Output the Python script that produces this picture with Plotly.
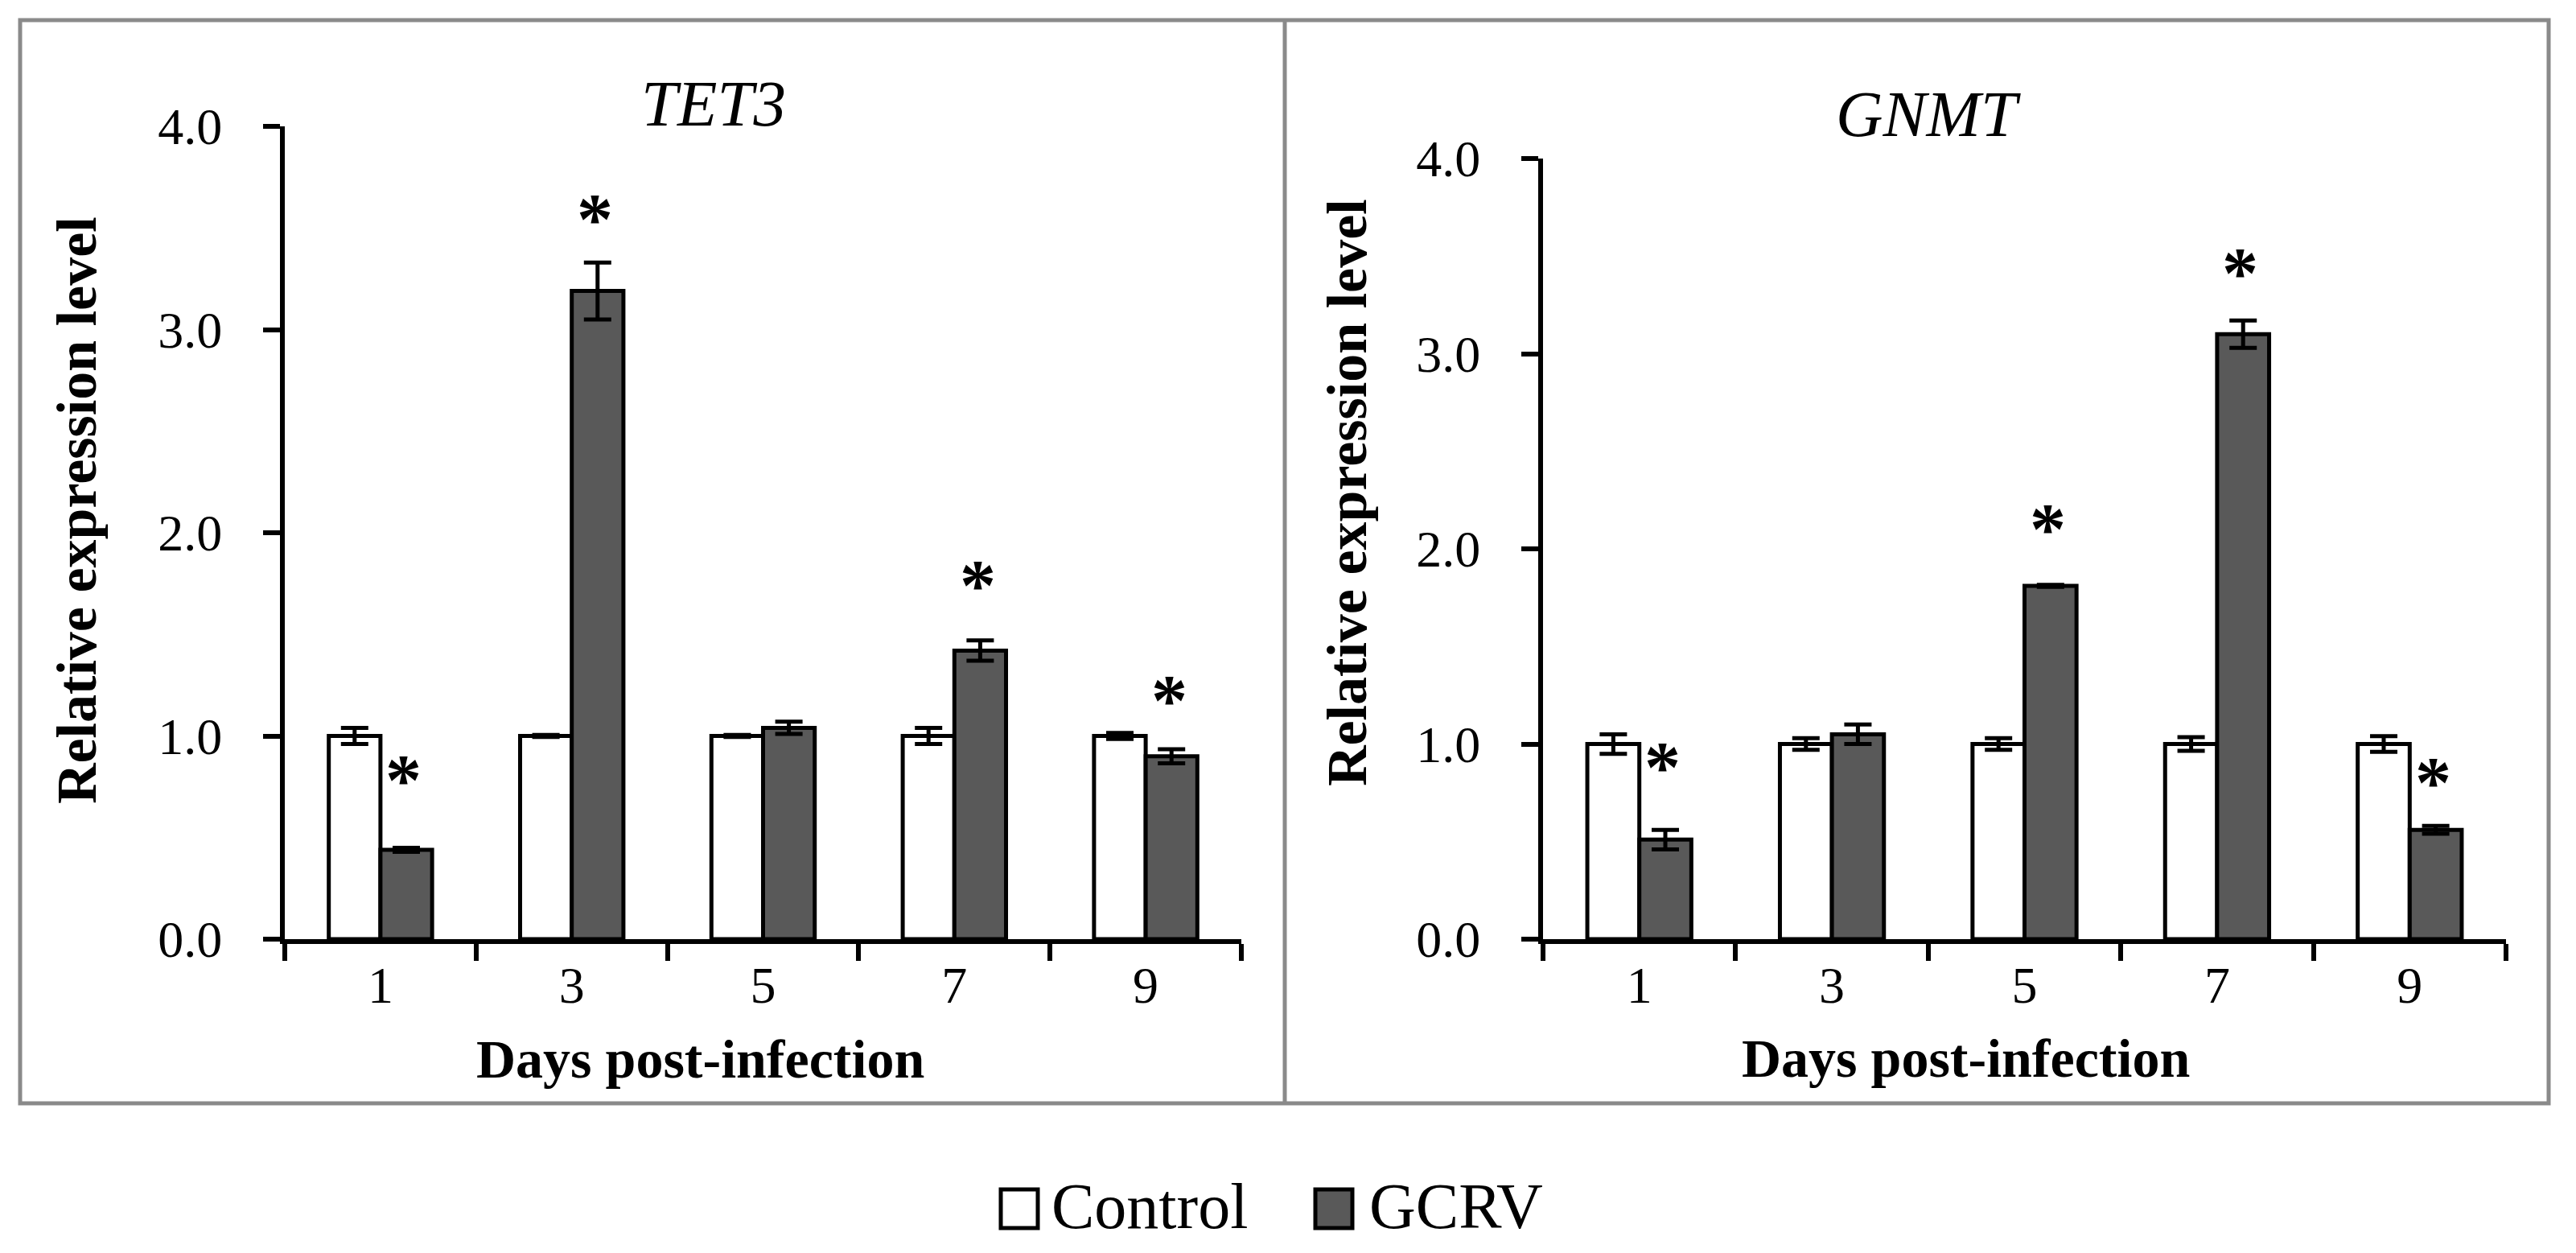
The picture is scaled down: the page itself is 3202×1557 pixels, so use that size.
import plotly.graph_objects as go

# ---------------- data ----------------
days = ["1", "3", "5", "7", "9"]
series_names = ["Control", "GCRV"]
gene_titles = ["TET3", "GNMT"]
y_tick_vals = [0.0, 1.0, 2.0, 3.0, 4.0]

tet3_control = [1.00, 1.00, 1.00, 1.00, 1.00]
tet3_control_err = [0.04, 0.005, 0.005, 0.04, 0.015]
tet3_gcrv = [0.44, 3.19, 1.04, 1.42, 0.90]
tet3_gcrv_err = [0.01, 0.14, 0.03, 0.05, 0.035]
tet3_star_y = [0.83, 3.59, None, 1.79, 1.22]

gnmt_control = [1.00, 1.00, 1.00, 1.00, 1.00]
gnmt_control_err = [0.05, 0.03, 0.03, 0.035, 0.04]
gnmt_gcrv = [0.51, 1.05, 1.81, 3.10, 0.56]
gnmt_gcrv_err = [0.05, 0.05, 0.005, 0.07, 0.02]
gnmt_star_y = [0.93, None, 2.15, 3.46, 0.85]

# ---------------- layout helpers ----------------
W, H = 3202, 1557
FONT = "Liberation Serif"
GCRV_COLOR = "#595959"
CONTROL_COLOR = "#ffffff"
BORDER = "#8a8a8a"


def fx(px):
    return px / W


def fy(py):
    return 1 - py / H


fig = go.Figure()

panels = [
    dict(xa="x", ya="y", ctrl=tet3_control, ctrl_e=tet3_control_err,
         gcrv=tet3_gcrv, gcrv_e=tet3_gcrv_err, stars=tet3_star_y),
    dict(xa="x2", ya="y2", ctrl=gnmt_control, ctrl_e=gnmt_control_err,
         gcrv=gnmt_gcrv, gcrv_e=gnmt_gcrv_err, stars=gnmt_star_y),
]

for i, p in enumerate(panels):
    for name, vals, errs, color in [
        (series_names[0], p["ctrl"], p["ctrl_e"], CONTROL_COLOR),
        (series_names[1], p["gcrv"], p["gcrv_e"], GCRV_COLOR),
    ]:
        fig.add_trace(go.Bar(
            x=days, y=vals, name=name, xaxis=p["xa"], yaxis=p["ya"],
            offsetgroup=name, showlegend=False,
            marker=dict(color=color, line=dict(color="black", width=5)),
            error_y=dict(type="data", array=errs, visible=True,
                         color="black", thickness=5, width=17),
        ))

axis_common = dict(
    showgrid=False, zeroline=False, showline=True, linecolor="black",
    linewidth=6, ticks="outside", tickcolor="black", tickwidth=6,
    ticklen=21, tickfont=dict(family=FONT, size=64, color="black"),
    automargin=False,
)
x_common = dict(type="category", categoryorder="array", categoryarray=days,
                range=[-0.5, len(days) - 0.5], tickson="boundaries",
                ticklabelstandoff=-4, **axis_common)
y_common = dict(range=[0, 4], tickvals=y_tick_vals, tickformat=".1f",
                ticklabelstandoff=38, **axis_common)

fig.update_layout(
    width=W, height=H, autosize=False,
    margin=dict(l=0, r=0, t=0, b=0, pad=0, autoexpand=False),
    paper_bgcolor="white", plot_bgcolor="white",
    barmode="group", bargap=0.46, bargroupgap=0.0,
    showlegend=False,
    font=dict(family=FONT, color="black"),
    xaxis=dict(domain=[fx(354), fx(1543)], anchor="y", **x_common),
    yaxis=dict(domain=[fy(1167), fy(157)], anchor="x", **y_common),
    xaxis2=dict(domain=[fx(1918), fx(3115)], anchor="y2", **x_common),
    yaxis2=dict(domain=[fy(1167), fy(197)], anchor="x2", **y_common),
)

annotations = []
# significance asterisks above GCRV bars (x given as category index)
for p in panels:
    for idx, sy in enumerate(p["stars"]):
        if sy is None:
            continue
        annotations.append(dict(
            x=idx, y=sy, xref=p["xa"], yref=p["ya"], text="<b>*</b>",
            showarrow=False, xshift=29, yshift=-12,
            font=dict(family=FONT, size=90, color="black"),
            xanchor="center", yanchor="middle",
        ))

# panel titles
for title, cx, cy in [(gene_titles[0], 887, 129), (gene_titles[1], 2397, 142)]:
    annotations.append(dict(
        x=fx(cx), y=fy(cy), xref="paper", yref="paper",
        text=f"<i>{title}</i>", showarrow=False,
        font=dict(family=FONT, size=81, color="black"),
        xanchor="center", yanchor="middle",
    ))

# axis titles
for cx, cy in [(95, 634), (1674, 612)]:
    annotations.append(dict(
        x=fx(cx), y=fy(cy), xref="paper", yref="paper",
        text="<b>Relative expression level</b>", textangle=-90,
        showarrow=False, font=dict(family=FONT, size=70, color="black"),
        xanchor="center", yanchor="middle",
    ))
for cx, cy in [(870, 1316), (2443, 1315)]:
    annotations.append(dict(
        x=fx(cx), y=fy(cy), xref="paper", yref="paper",
        text="<b>Days post-infection</b>",
        showarrow=False, font=dict(family=FONT, size=68, color="black"),
        xanchor="center", yanchor="middle",
    ))

# legend (manual, bottom centre)
legend_items = [(series_names[0], CONTROL_COLOR, 1244, 1305),
                (series_names[1], GCRV_COLOR, 1635, 1700)]
shapes = []
for name, color, bx, tx in legend_items:
    shapes.append(dict(type="rect", xref="paper", yref="paper",
                       x0=fx(bx), x1=fx(bx + 46), y0=fy(1526), y1=fy(1478),
                       fillcolor=color, line=dict(color="black", width=5)))
    annotations.append(dict(
        x=fx(tx), y=fy(1499), xref="paper", yref="paper", text=name,
        showarrow=False, font=dict(family=FONT, size=80, color="black"),
        xanchor="left", yanchor="middle",
    ))

# panel frames
shapes.append(dict(type="rect", xref="paper", yref="paper",
                   x0=fx(25), x1=fx(3168), y0=fy(1371), y1=fy(25),
                   line=dict(color=BORDER, width=5), layer="below"))
shapes.append(dict(type="line", xref="paper", yref="paper",
                   x0=fx(1597), x1=fx(1597), y0=fy(1371), y1=fy(25),
                   line=dict(color=BORDER, width=5), layer="below"))

fig.update_layout(annotations=annotations, shapes=shapes)

fig.write_html("out.html")
